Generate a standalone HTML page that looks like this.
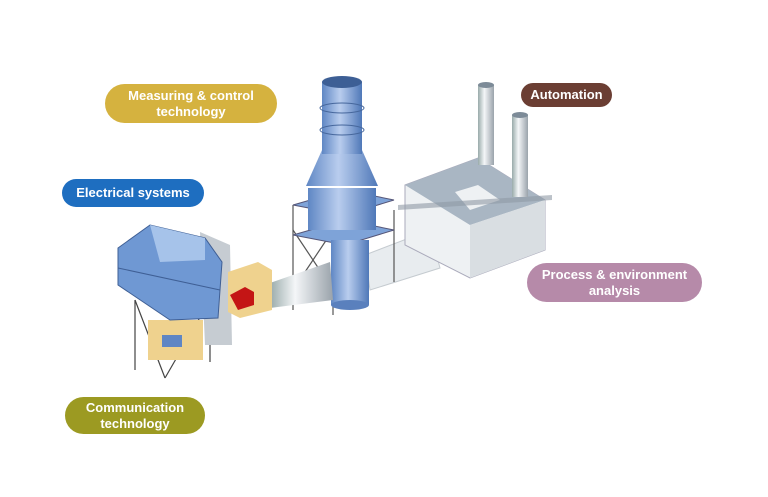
<!DOCTYPE html>
<html><head><meta charset="utf-8"><style>
html,body{margin:0;padding:0;background:#fff;width:768px;height:497px;overflow:hidden}
.p{position:absolute;color:#fff;font:bold 13px/16px "Liberation Sans",sans-serif;text-align:center;display:flex;align-items:center;justify-content:center;border-radius:20px}
</style></head><body>
<svg width="768" height="497" style="position:absolute;left:0;top:0">
<defs>
<linearGradient id="cyl" x1="0" x2="1"><stop offset="0" stop-color="#5f87c4"/><stop offset=".45" stop-color="#b9cdee"/><stop offset="1" stop-color="#4f78b8"/></linearGradient>
<linearGradient id="wc" x1="0" x2="1"><stop offset="0" stop-color="#9aa"/><stop offset=".4" stop-color="#f4f6f8"/><stop offset="1" stop-color="#9aa3ab"/></linearGradient>
</defs>
<!-- duct between stack and factory -->
<polygon points="365,255 430,230 440,268 370,290" fill="#e8ecef" stroke="#c5cbd0"/>
<!-- factory -->
<polygon points="405,185 478,158 545,200 545,250 470,278 405,245" fill="#eef1f3" stroke="#aab"/>
<polygon points="405,185 478,158 545,200 470,225" fill="#a9b6c3"/>
<polygon points="455,192 478,185 500,200 470,210" fill="#eef1f3"/>
<polygon points="470,225 545,200 545,250 470,278" fill="#d9dee2"/>
<polygon points="398,205 552,195 552,200 398,210" fill="#8f9aa5" opacity=".6"/>
<rect x="478" y="85" width="16" height="80" fill="url(#wc)"/><ellipse cx="486" cy="85" rx="8" ry="3" fill="#7d8b98"/>
<rect x="512" y="115" width="16" height="82" fill="url(#wc)"/><ellipse cx="520" cy="115" rx="8" ry="3" fill="#7d8b98"/>
<!-- stack structure -->
<g stroke="#555" stroke-width="1.2" fill="none">
<line x1="293" y1="205" x2="293" y2="310"/><line x1="333" y1="220" x2="333" y2="315"/><line x1="394" y1="210" x2="394" y2="282"/>
<line x1="293" y1="230" x2="333" y2="290"/><line x1="333" y1="230" x2="293" y2="290"/>
</g>
<polygon points="293,205 345,215 394,200 345,190" fill="#7ea3d8" stroke="#557"/>
<polygon points="293,235 345,245 394,230 345,220" fill="#7ea3d8" stroke="#557"/>
<rect x="331" y="240" width="38" height="65" fill="url(#cyl)"/><ellipse cx="350" cy="305" rx="19" ry="5" fill="#5a80bd"/>
<polygon points="308,188 376,188 376,230 308,230" fill="url(#cyl)"/>
<polygon points="322,150 362,150 378,186 306,186" fill="url(#cyl)"/>
<rect x="322" y="82" width="40" height="72" fill="url(#cyl)"/>
<ellipse cx="342" cy="82" rx="20" ry="6" fill="#3d5f95"/>
<ellipse cx="342" cy="108" rx="22" ry="5" fill="none" stroke="#46679c"/>
<ellipse cx="342" cy="130" rx="22" ry="5" fill="none" stroke="#46679c"/>
<!-- cone duct -->
<polygon points="270,283 330,262 333,300 270,308" fill="url(#wc)"/>
<!-- left unit -->
<g stroke="#444" stroke-width="1.2"><line x1="135" y1="300" x2="165" y2="378"/><line x1="210" y1="300" x2="165" y2="378"/><line x1="135" y1="300" x2="135" y2="370"/><line x1="210" y1="300" x2="210" y2="362"/></g>
<rect x="148" y="320" width="55" height="40" fill="#efd28e"/>
<rect x="162" y="335" width="20" height="12" fill="#5f86c4"/>
<polygon points="200,232 230,245 232,345 205,345" fill="#c6ccd2"/>
<polygon points="228,272 258,262 272,270 272,310 240,318 228,312" fill="#efd28e"/>
<polygon points="230,295 245,287 254,292 254,305 238,310" fill="#c41515"/>
<polygon points="118,248 150,225 205,238 222,262 218,318 170,320 118,285" fill="#6f98d3" stroke="#3f5f95"/>
<polygon points="150,225 205,238 205,260 160,262" fill="#a6c3ea"/>
<line x1="118" y1="268" x2="220" y2="290" stroke="#3f5f95"/>
</svg>
<div class="p" style="left:105px;top:84px;width:172px;height:39px;background:#d5b23f">Measuring &amp; control<br>technology</div>
<div class="p" style="left:521px;top:83px;width:91px;height:24px;background:#6b3e33">Automation</div>
<div class="p" style="left:62px;top:179px;width:142px;height:28px;background:#1e6ec0">Electrical systems</div>
<div class="p" style="left:527px;top:263px;width:175px;height:39px;background:#b68aa9">Process &amp; environment<br>analysis</div>
<div class="p" style="left:65px;top:397px;width:140px;height:37px;background:#9c9a22">Communication<br>technology</div>
</body></html>
